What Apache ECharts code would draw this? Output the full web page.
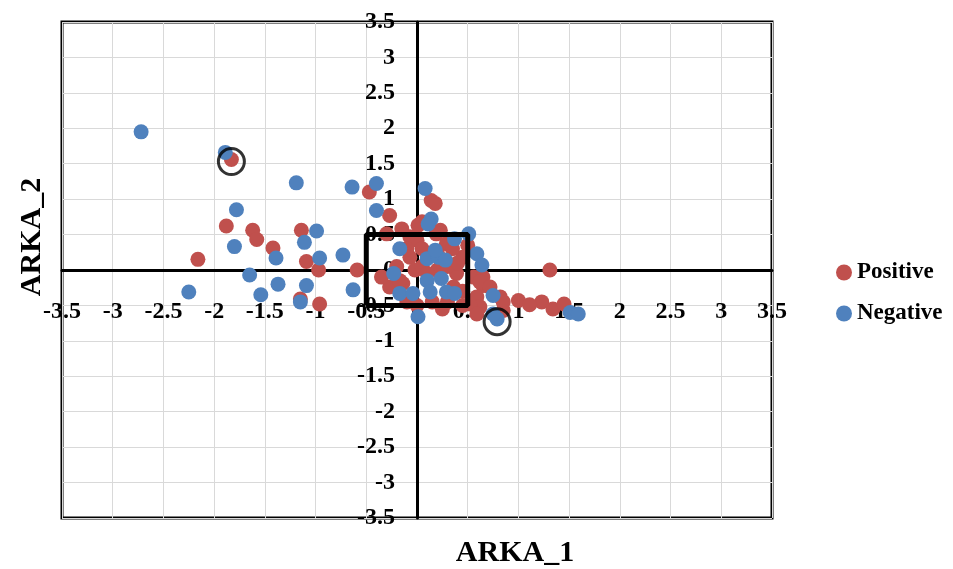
<!DOCTYPE html>
<html lang="en">
<head>
    <meta charset="UTF-8">
    <title>ARKA scatter</title>
    <script src="https://cdn.jsdelivr.net/npm/echarts@6/dist/echarts.min.js"></script>
    <style>
        html, body { margin: 0; padding: 0; background: #fff; }
        #main { width: 953px; height: 569px; }
    </style>
</head>
<body>
    <div id="main"></div>
    <script>
        // Positive (red) points [ARKA_1, ARKA_2]
        var positive = [
            [-1.83, 1.56], [-1.88, 0.62], [-1.62, 0.56], [-1.58, 0.43], [-1.42, 0.31],
            [-2.16, 0.15], [-1.14, 0.56], [-1.09, 0.12], [-0.97, 0.0], [-1.15, -0.41],
            [-0.96, -0.48], [-0.59, 0.0], [-0.47, 1.10], [-0.27, 0.77], [-0.15, 0.58],
            [0.14, 0.98], [0.18, 0.94], [0.05, 0.68], [0.01, 0.63], [0.23, 0.56],
            [-0.07, 0.47], [-0.30, 0.51], [0.0, 0.42], [0.19, 0.51], [0.29, 0.37],
            [-0.07, 0.18], [0.45, 0.18], [-0.02, 0.0], [0.39, -0.05], [0.56, -0.10],
            [0.65, -0.10], [0.65, -0.22], [0.36, -0.24], [-0.14, -0.19], [-0.27, -0.24],
            [-0.17, -0.15], [0.62, -0.17], [0.72, -0.24], [0.59, -0.38], [0.62, -0.52],
            [0.52, -0.48], [0.85, -0.57], [0.82, -0.38], [0.85, -0.45], [0.59, -0.62],
            [1.31, 0.0], [1.0, -0.43], [1.23, -0.45], [1.11, -0.49], [1.34, -0.55],
            [1.45, -0.48], [0.05, 0.05], [0.2, 0.0], [0.3, 0.05], [0.1, -0.05],
            [0.15, -0.45], [0.3, -0.45], [0.45, -0.5], [0.0, -0.5], [-0.1, -0.45],
            [0.35, 0.3], [0.4, 0.1], [-0.1, 0.3], [0.05, 0.3], [0.25, -0.55],
            [0.45, -0.3], [0.5, 0.35], [-0.35, -0.1], [0.2, 0.25], [-0.2, 0.05]
        ];
        // Negative (blue) points [ARKA_1, ARKA_2]
        var negative = [
            [-2.72, 1.95], [-1.89, 1.66], [-1.19, 1.23], [-0.64, 1.17], [-0.40, 1.22],
            [-1.78, 0.85], [-1.80, 0.33], [-1.39, 0.17], [-0.99, 0.55], [-1.11, 0.39],
            [-0.96, 0.17], [-0.73, 0.21], [-1.65, -0.07], [-1.37, -0.20], [-1.09, -0.22],
            [-1.54, -0.35], [-2.25, -0.31], [-1.15, -0.45], [-0.63, -0.28], [-0.40, 0.84],
            [0.08, 1.15], [0.14, 0.72], [0.11, 0.65], [-0.17, 0.30], [-0.23, -0.05],
            [0.10, 0.16], [0.21, 0.18], [0.28, 0.14], [0.18, 0.28], [0.37, 0.44],
            [0.51, 0.51], [0.59, 0.23], [0.64, 0.07], [0.10, -0.15], [0.24, -0.12],
            [-0.17, -0.33], [-0.04, -0.33], [0.13, -0.31], [0.29, -0.31], [0.37, -0.33],
            [0.75, -0.36], [0.79, -0.69], [0.75, -0.62], [0.01, -0.66], [1.51, -0.60],
            [1.59, -0.62]
        ];
        // highlight box and rings
        var box = [[-0.5, -0.5], [0.5, -0.5], [0.5, 0.5], [-0.5, 0.5], [-0.5, -0.5]];
        var rings = [[-1.83, 1.53], [0.79, -0.73]];

        var labelFont = {
            fontFamily: 'Liberation Serif',
            fontWeight: 'bold',
            fontSize: 24,
            color: '#000'
        };

        var myChart = echarts.init(document.getElementById('main'));
        var option = {
            animation: false,
            grid: {
                left: 62, right: 181, top: 22, bottom: 51,
                show: true,
                borderColor: '#000',
                borderWidth: 3
            },
            legend: {
                data: ['Positive', 'Negative'],
                orient: 'vertical',
                left: 831,
                top: 256,
                icon: 'circle',
                itemWidth: 16,
                itemHeight: 16,
                itemGap: 18,
                textStyle: {
                    fontFamily: 'Liberation Serif',
                    fontWeight: 'bold',
                    fontSize: 23,
                    color: '#000'
                }
            },
            // labels sit along the zero lines, so axes are shifted there with offset
            xAxis: {
                type: 'value',
                min: -3.5,
                max: 3.5,
                interval: 0.5,
                position: 'bottom',
                offset: -248,
                axisLine: { onZero: false, lineStyle: { color: '#000', width: 3 } },
                axisTick: { show: false },
                axisLabel: Object.assign({ margin: 30, showMinLabel: true, showMaxLabel: true }, labelFont),
                splitLine: { lineStyle: { color: '#d9d9d9', width: 1 } }
            },
            yAxis: {
                type: 'value',
                min: -3.5,
                max: 3.5,
                interval: 0.5,
                position: 'left',
                offset: -355,
                axisLine: { onZero: false, lineStyle: { color: '#000', width: 3 } },
                axisTick: { show: false },
                axisLabel: Object.assign({ margin: 22, showMinLabel: true, showMaxLabel: true }, labelFont),
                splitLine: { lineStyle: { color: '#d9d9d9', width: 1 } }
            },
            graphic: [
                {
                    type: 'text', x: 515, y: 553,
                    style: {
                        text: 'ARKA_1', font: 'bold 30px "Liberation Serif"', fill: '#000',
                        textAlign: 'center', textVerticalAlign: 'middle'
                    }
                },
                {
                    type: 'text', x: 32, y: 237, rotation: Math.PI / 2,
                    style: {
                        text: 'ARKA_2', font: 'bold 30px "Liberation Serif"', fill: '#000',
                        textAlign: 'center', textVerticalAlign: 'middle'
                    }
                }
            ],
            series: [
                {
                    name: 'Positive',
                    type: 'scatter',
                    symbolSize: 15,
                    data: positive,
                    itemStyle: { color: '#C0504D', opacity: 1 },
                    z: 2
                },
                {
                    name: 'Negative',
                    type: 'scatter',
                    symbolSize: 15,
                    data: negative,
                    itemStyle: { color: '#4F81BD', opacity: 1 },
                    z: 3
                },
                {
                    name: 'box',
                    type: 'line',
                    data: box,
                    symbol: 'none',
                    lineStyle: { color: '#000', width: 5 },
                    z: 5
                },
                {
                    name: 'rings',
                    type: 'scatter',
                    data: rings,
                    symbolSize: 26,
                    itemStyle: { color: 'rgba(0,0,0,0)', borderColor: '#000', borderWidth: 3 },
                    z: 6
                }
            ]
        };
        myChart.setOption(option);
    </script>
</body>
</html>
